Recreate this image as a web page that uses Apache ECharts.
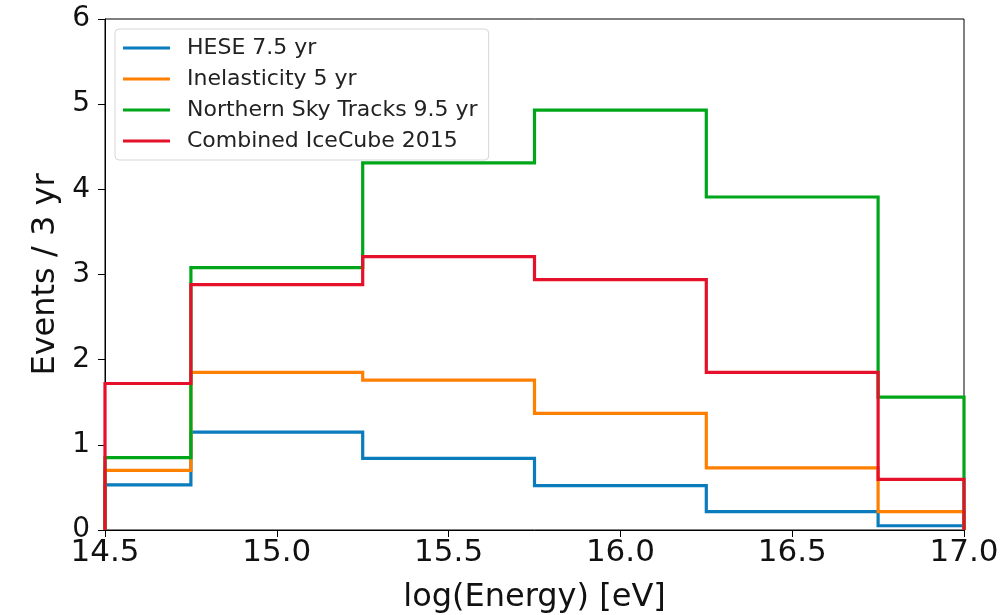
<!DOCTYPE html>
<html>
<head>
<meta charset="utf-8">
<script src="https://cdn.jsdelivr.net/npm/echarts@6/dist/echarts.min.js"></script>
<style>
  html, body { margin: 0; padding: 0; background: #fff; }
  #main { width: 1004px; height: 615px; }
</style>
</head>
<body>
<div id="main"></div>
<script type="text/javascript">
    // bin edges, log(E/eV)
    var edges = [14.5, 14.75, 15.25, 15.75, 16.25, 16.75, 17.0];
    // events per 3 yr in each bin
    var hese = [0.53, 1.15, 0.84, 0.52, 0.215, 0.05];
    var inelasticity = [0.70, 1.85, 1.76, 1.37, 0.73, 0.215];
    var northern = [0.85, 3.08, 4.31, 4.93, 3.91, 1.56];
    var combined = [1.72, 2.88, 3.21, 2.94, 1.85, 0.595];
    var names = ['HESE 7.5 yr', 'Inelasticity 5 yr', 'Northern Sky Tracks 9.5 yr', 'Combined IceCube 2015'];
    var xTicks = [14.5, 15.0, 15.5, 16.0, 16.5, 17.0];
    var yTicks = [0, 1, 2, 3, 4, 5, 6];

    // histtype='step' outline: up from 0 at first edge, down to 0 at last
    function stepPoints(vals) {
        var pts = [[edges[0], 0]];
        for (var i = 0; i < vals.length; i++) {
            pts.push([edges[i], vals[i]]);
            pts.push([edges[i + 1], vals[i]]);
        }
        pts.push([edges[edges.length - 1], 0]);
        return pts;
    }

    var colors = ['#0a7bbd', '#ff7f00', '#00a61a', '#e5102a'];
    var allVals = [hese, inelasticity, northern, combined];

    var myChart = echarts.init(document.getElementById('main'));
    var font = 'DejaVu Sans';
    var option = {
        animation: false,
        color: colors,
        grid: {
            left: 105, right: 40, top: 19, bottom: 85,
            outerBoundsMode: 'none',
            containLabel: false,
            show: true, borderColor: '#000', borderWidth: 1, backgroundColor: '#fff'
        },
        legend: {
            orient: 'vertical',
            left: 115, top: 29,
            padding: [8, 11, 8, 8],
            itemWidth: 47, itemHeight: 3,
            itemGap: 9,
            icon: 'rect',
            backgroundColor: '#fff',
            borderColor: '#d6d6d6', borderWidth: 1, borderRadius: 4,
            textStyle: {
                fontFamily: font, fontSize: 22, color: '#222', lineHeight: 22,
                padding: [0, 0, 0, 12]
            },
            data: names
        },
        xAxis: {
            type: 'value',
            min: xTicks[0], max: xTicks[xTicks.length - 1], interval: 0.5,
            name: 'log(Energy) [eV]',
            nameLocation: 'middle', nameGap: 52,
            nameTextStyle: { fontFamily: font, fontSize: 32, color: '#111' },
            axisLine: { show: true, onZero: false, lineStyle: { color: '#000', width: 1 } },
            axisTick: { show: true, length: 7, lineStyle: { color: '#000' } },
            axisLabel: {
                fontFamily: font, fontSize: 31, color: '#111', margin: 7,
                formatter: function (v) { return v.toFixed(1); }
            },
            splitLine: { show: false }
        },
        yAxis: {
            type: 'value',
            min: yTicks[0], max: yTicks[yTicks.length - 1], interval: 1,
            name: 'Events / 3 yr',
            nameLocation: 'middle', nameGap: 43, nameRotate: 90,
            nameTextStyle: { fontFamily: font, fontSize: 32, color: '#111' },
            axisLine: { show: true, lineStyle: { color: '#000', width: 1 } },
            axisTick: { show: true, length: 7, lineStyle: { color: '#000' } },
            axisLabel: { fontFamily: font, fontSize: 28, color: '#111', margin: 15 },
            splitLine: { show: false }
        },
        series: allVals.map(function (vals, k) {
            return {
                name: names[k],
                type: 'line',
                symbol: 'none',
                clip: false,
                lineStyle: { width: 3.2, color: colors[k], join: 'miter' },
                itemStyle: { color: colors[k] },
                data: stepPoints(vals)
            };
        })
    };
    myChart.setOption(option);
</script>
</body>
</html>
